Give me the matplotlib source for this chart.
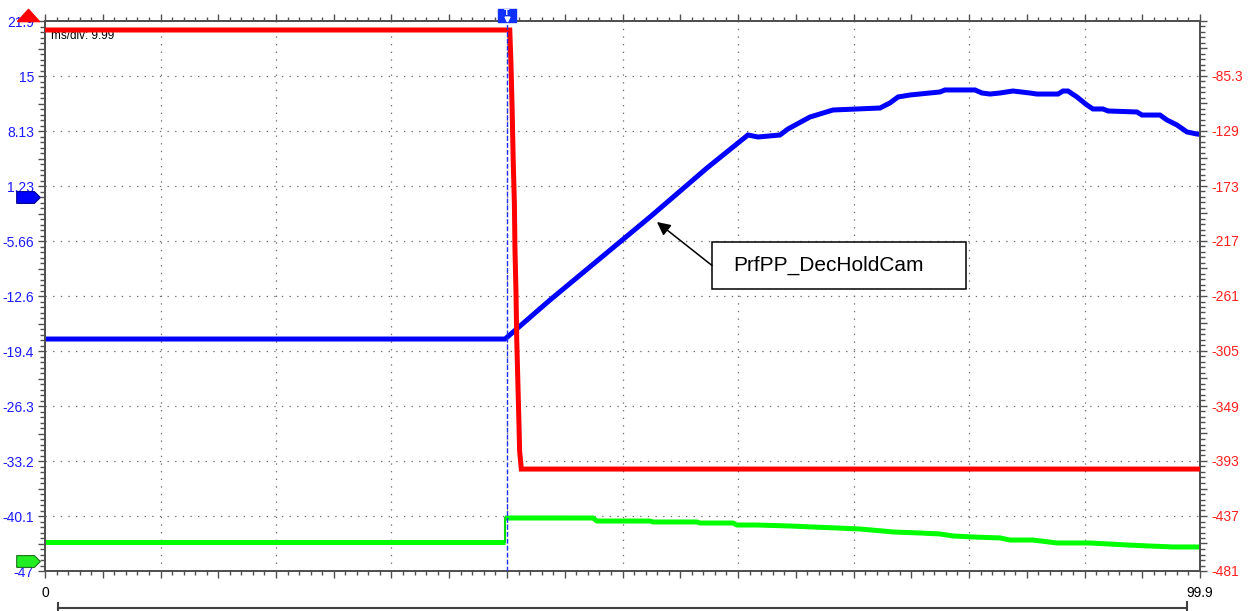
import matplotlib
matplotlib.use('Agg')
import matplotlib.pyplot as plt
import numpy as np
from matplotlib.lines import Line2D
from matplotlib.patches import Rectangle
from matplotlib.ticker import FixedLocator, FixedFormatter
import matplotlib.transforms as mtransforms

plt.rcParams['font.family'] = ['Liberation Sans', 'DejaVu Sans']

## Time axis (ms)
t_max = 99.9
cursor_t = 39.96

## Left axis (blue trace) and right axis (red trace) tick labels
left_labels = ['-47', '-40.1', '-33.2', '-26.3', '-19.4', '-12.6', '-5.66', '1.23', '8.13', '15', '21.9']
right_labels = ['-481', '-437', '-393', '-349', '-305', '-261', '-217', '-173', '-129', '-85.3', '']
left_lim = (-47, 21.9)
right_lim = (-481, -41.3)

## Red trace (right axis units)
red_t = [0, 40.2, 40.3, 40.4, 40.5, 40.6, 40.65, 40.74, 40.8, 40.9, 41.0, 41.05, 41.2, 99.9]
red_v = [-48.5, -48.5, -74.9, -110, -154, -188, -224, -259, -295, -330, -365, -385, -399.5, -399.5]

## Blue trace PrfPP_DecHoldCam (left axis units)
blue_t = [0, 39.79, 43.68, 52.33, 57.26, 60.80, 61.67, 63.57, 64.26, 66.16, 68.15, 72.22, 73.08,
          73.78, 74.81, 77.41, 77.84, 80.44, 81.04, 81.73, 82.60, 83.72, 85.19, 85.80, 87.62,
          88.05, 88.48, 89.26, 90.12, 90.64, 91.51, 91.94, 94.45, 94.88, 96.44, 97.04, 97.91,
          98.77, 99.64, 99.9]
blue_v = [-17.94, -17.94, -13.05, -2.65, 3.49, 7.62, 7.37, 7.62, 8.37, 9.87, 10.75, 11.0, 11.63,
          12.38, 12.63, 13.01, 13.26, 13.26, 12.88, 12.75, 12.88, 13.13, 12.88, 12.75, 12.75,
          13.13, 13.13, 12.38, 11.38, 10.88, 10.88, 10.63, 10.5, 10.12, 10.12, 9.50, 8.87,
          8.0, 7.74, 7.7]

## Green trace (left axis units), before and after the step
green_t_pre = [0, 39.79]
green_v_pre = [-43.37, -43.37]
green_t_post = [39.79, 47.40, 47.74, 52.33, 52.59, 56.39, 56.65, 59.51, 59.85, 61.58, 64.43,
                66.42, 68.50, 70.49, 72.48, 73.34, 75.68, 77.41, 78.53, 80.26, 82.60, 83.46,
                85.45, 87.53, 90.38, 93.58, 95.57, 97.56, 99.9]
green_v_post = [-40.36, -40.36, -40.74, -40.74, -40.86, -40.86, -40.99, -40.99, -41.24, -41.24,
                -41.36, -41.49, -41.61, -41.74, -41.99, -42.11, -42.24, -42.36, -42.61, -42.74,
                -42.86, -43.12, -43.12, -43.49, -43.49, -43.74, -43.87, -43.99, -43.99]

## Zero / offset markers on the left
blue_marker_v = -0.15
green_marker_v = -45.75

W, H = 1253, 611
fig = plt.figure(figsize=(W / 100, H / 100), dpi=100)
ax = fig.add_axes([45 / W, 1 - 571 / H, 1155 / W, 550 / H])
ax2 = ax.twinx()

ax.set_xlim(0, t_max)
ax.set_ylim(*left_lim)
ax2.set_ylim(*right_lim)

spine_col = '#505050'
for a in (ax, ax2):
    for s in a.spines.values():
        s.set_color(spine_col)
        s.set_linewidth(1.3)
    a.set_facecolor('none')

# ticks: long at half divisions, short at tenths
xdiv = np.linspace(0, t_max, 11)
ax.xaxis.set_major_locator(FixedLocator(np.linspace(0, t_max, 21)))
ax.xaxis.set_minor_locator(FixedLocator(np.linspace(0, t_max, 101)))
xlab = [''] * 21
xlab[0] = '0'
xlab[-1] = '99.9'
ax.xaxis.set_major_formatter(FixedFormatter(xlab))
ax.tick_params(axis='x', which='both', direction='out', top=True, bottom=True,
               labeltop=False, colors=spine_col, labelcolor='black', labelsize=10)
ax.tick_params(axis='x', which='major', length=5, width=1, pad=6)
ax.tick_params(axis='x', which='minor', length=3, width=1)

lpos = np.linspace(left_lim[0], left_lim[1], 21)
ax.yaxis.set_major_locator(FixedLocator(lpos))
ax.yaxis.set_minor_locator(FixedLocator(np.linspace(left_lim[0], left_lim[1], 101)))
lfull = [''] * 21
lfull[::2] = left_labels
ax.yaxis.set_major_formatter(FixedFormatter(lfull))
ax.tick_params(axis='y', which='both', direction='out', left=True, right=False,
               colors=spine_col, labelcolor='#1a1aff', labelsize=10)
ax.tick_params(axis='y', which='major', length=5, width=1, pad=3)
ax.tick_params(axis='y', which='minor', length=3.5, width=1)

rpos = np.linspace(right_lim[0], right_lim[1], 21)
ax2.yaxis.set_major_locator(FixedLocator(rpos))
ax2.yaxis.set_minor_locator(FixedLocator(np.linspace(right_lim[0], right_lim[1], 101)))
rfull = [''] * 21
rfull[::2] = right_labels
ax2.yaxis.set_major_formatter(FixedFormatter(rfull))
ax2.tick_params(axis='y', which='both', direction='out', right=True, left=False,
                colors=spine_col, labelcolor='#ff2020', labelsize=10)
ax2.tick_params(axis='y', which='major', length=5, width=1, pad=3.5)
ax2.tick_params(axis='y', which='minor', length=3.5, width=1)

# dotted grid at full divisions
grid_kw = dict(color='#707070', lw=0.9, ls=(0, (1.1, 5.0)), zorder=0)
for xv in xdiv[1:-1]:
    ax.axvline(xv, **grid_kw)
for yv in np.linspace(left_lim[0], left_lim[1], 11)[1:-1]:
    ax.axhline(yv, **grid_kw)

lw = 3.6
ax.plot(green_t_pre, green_v_pre, color='#00ff00', lw=lw, solid_capstyle='butt', zorder=3)
ax.plot(green_t_post, green_v_post, color='#00ff00', lw=lw, solid_capstyle='butt', zorder=3)
ax.plot([green_t_pre[-1], green_t_post[0]], [green_v_pre[-1], green_v_post[0]],
        color='#00dd00', lw=1.5, zorder=3)
ax.plot(blue_t, blue_v, color='#0000ff', lw=lw, solid_joinstyle='miter', zorder=4)
ax2.plot(red_t, red_v, color='#ff0000', lw=lw, solid_joinstyle='miter', zorder=3)

# cursor
ax2.axvline(cursor_t, color='#2030ff', lw=1.0, ls=(0, (3.5, 1.5)), zorder=5)

# marker shapes
arrow_shape = [(-1, -0.5), (0.5, -0.5), (1, 0), (0.5, 0.5), (-1, 0.5), (-1, -0.5)]
tri_shape = [(-1, -0.55), (1, -0.55), (0, 0.55), (-1, -0.55)]
rect_shape = [(-1, -0.72), (1, -0.72), (1, 0.72), (-1, 0.72), (-1, -0.72)]

mx = (27.5 - 45) / 1155
tr_left = mtransforms.blended_transform_factory(ax.transAxes, ax.transData)
ax.plot([mx], [blue_marker_v], marker=arrow_shape, ms=17, mfc='#0000ff', mec='#000090',
        mew=0.8, transform=tr_left, clip_on=False, zorder=6)
ax.plot([mx], [green_marker_v], marker=arrow_shape, ms=17, mfc='#22ee22', mec='#207020',
        mew=0.8, transform=tr_left, clip_on=False, zorder=6)
ax.plot([mx], [1 + 6 / 550], marker=tri_shape, ms=16, mfc='#ff0000', mec='#ff0000',
        transform=ax.transAxes, clip_on=False, zorder=6)

tr_top = mtransforms.blended_transform_factory(ax.transData, ax.transAxes)
ax2.plot([cursor_t], [1 + 6.5 / 550], marker=rect_shape, ms=13, mfc='#1030ff', mec='#1030ff',
         transform=tr_top, clip_on=False, zorder=7)
ax2.text(cursor_t, 1 + 8.5 / 550, 'T', color='white', fontsize=6.5, fontweight='bold',
         ha='center', va='center', transform=tr_top, clip_on=False, zorder=8)
ax2.plot([cursor_t], [1 + 2.5 / 550], marker='v', ms=3.5, mfc='white', mec='white',
         transform=tr_top, clip_on=False, zorder=8)

# ms/div label
ax.text(6 / 1155, 1 - 15 / 550, 'ms/div: 9.99', transform=ax.transAxes, fontsize=8.5,
        ha='left', va='center', color='black', zorder=8)

# annotation box with arrow
box_t0, box_t1 = 57.69, 79.66
box_v0, box_v1 = -11.67, -5.78
ax.add_patch(Rectangle((box_t0, box_v0), box_t1 - box_t0, box_v1 - box_v0,
                       fc='white', ec='black', lw=1.1, zorder=9))
ax.text(67.81, -8.75, 'PrfPP_DecHoldCam', fontsize=15, ha='center', va='center', zorder=10)
ax.annotate('', xy=(52.93, -3.28), xytext=(box_t0, (box_v0 + box_v1) / 2),
            arrowprops=dict(arrowstyle='-|>', color='black', lw=1.1, mutation_scale=20,
                            shrinkA=0, shrinkB=0), zorder=10)

# scroll bar at the bottom
bar_col = '#404040'
yb = 1 - 608 / H
fig.add_artist(Line2D([58 / W, 1187 / W], [yb, yb], color=bar_col, lw=1.5))
fig.add_artist(Line2D([58 / W, 58 / W], [1 - 603 / H, 0], color=bar_col, lw=1.5))
fig.add_artist(Line2D([1187 / W, 1187 / W], [1 - 602 / H, 0], color=bar_col, lw=1.5))

fig.savefig('out.png', dpi=100)
